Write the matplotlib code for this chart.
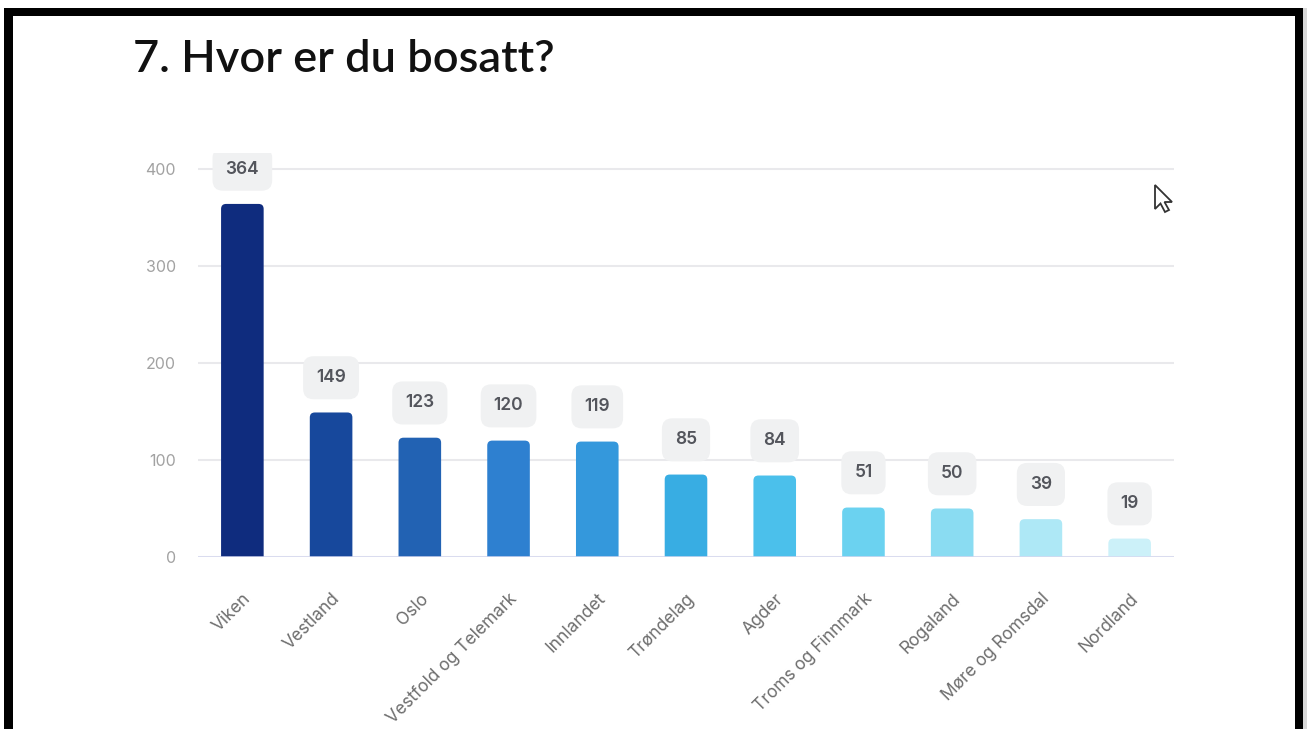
import matplotlib.pyplot as plt
from matplotlib.patches import FancyBboxPatch, Rectangle, Polygon

regions = ["Viken", "Vestland", "Oslo", "Vestfold og Telemark", "Innlandet",
           "Trøndelag", "Agder", "Troms og Finnmark", "Rogaland",
           "Møre og Romsdal", "Nordland"]
answers = [364, 149, 123, 120, 119, 85, 84, 51, 50, 39, 19]
bar_colors = ["#0f2c7e", "#17489c", "#2262b3", "#2e80d0", "#3498dc", "#38ade3",
              "#4bc0eb", "#6bd2f0", "#8adcf2", "#aee8f6", "#ccf1f9"]
y_ticks = [0, 100, 200, 300, 400]

W, H = 1307, 729
fig = plt.figure(figsize=(W / 100, H / 100), dpi=100)
fig.patch.set_facecolor("white")

# plot area in pixels: left 198, right 1174, baseline 557, clip top 153
ax = fig.add_axes([198 / W, 1 - 557 / H, (1174 - 198) / W, (557 - 153) / H])
ax.set_xlim(-0.5, len(regions) - 0.5)
ax.set_ylim(0, 416.5)

for t in y_ticks:
    ax.axhline(t, color="#e9e9ec", lw=1.5, zorder=0)
ax.axhline(0, color="#d6d8f0", lw=1.8, zorder=3)

bars = ax.bar(range(len(regions)), answers, width=0.48, color=bar_colors)

# swap the plain bars for ones with rounded tops
px_x = (1174 - 198) / len(regions)
px_y = (557 - 153) / 416.5
r_x = 5 / px_x
r_y = 5 / px_y
for b in bars:
    b.set_visible(False)
    patch = FancyBboxPatch((b.get_x(), -r_y), b.get_width(), b.get_height() + r_y,
                           boxstyle=f"round,pad=0,rounding_size={r_x}",
                           mutation_aspect=r_y / r_x,
                           facecolor=b.get_facecolor(), edgecolor="none", zorder=2)
    ax.add_patch(patch)

for i, v in enumerate(answers):
    ax.annotate(str(v), (i, v), xytext=(0, 25), textcoords="offset points",
                ha="center", va="center", fontsize=12.5, fontweight="semibold",
                family="Inter", color="#53555c", annotation_clip=False,
                clip_on=True, zorder=4,
                bbox=dict(boxstyle="round,pad=0.75,rounding_size=0.6",
                          facecolor="#f0f1f2", edgecolor="none"))

ax.set_yticks(y_ticks)
ax.set_yticklabels([str(t) for t in y_ticks], family="Inter", fontsize=11.5,
                   color="#a2a2a2")
ax.set_xticks(range(len(regions)))
ax.set_xticklabels(regions, rotation=45, ha="right", rotation_mode="anchor",
                   family="Inter", fontsize=12.5, color="#6e6e6e")
ax.tick_params(axis="y", length=0, pad=16)
ax.tick_params(axis="x", length=0, pad=24)
for s in ax.spines.values():
    s.set_visible(False)

fig.text(133 / W, 1 - 72 / H, "7. Hvor er du bosatt?", family="Lato",
         fontsize=32.5, fontweight="semibold", color="#111111",
         ha="left", va="baseline")

# black frame around the panel
frame = [(4, 8, 9, H - 8), (4, 8, 1299, 8), (1295, 8, 8, H - 8)]
for x0, y0, w, h in frame:
    fig.add_artist(Rectangle((x0, H - y0 - h), w, h, transform=None,
                             facecolor="black", edgecolor="none"))
fig.add_artist(Rectangle((1303, 0), 4, H - 8, transform=None,
                         facecolor="#d8d8d8", edgecolor="none"))

# mouse pointer
tip_x, tip_y = 1155, H - 185
pts = [(0, 0), (0, -24), (5.5, -18.5), (10, -27), (14, -25), (9.5, -17), (17, -17)]
fig.add_artist(Polygon([(tip_x + px, tip_y + py) for px, py in pts], closed=True,
                       transform=None, facecolor="white", edgecolor="#333333", lw=1.3))

fig.savefig("out.png", dpi=100)
